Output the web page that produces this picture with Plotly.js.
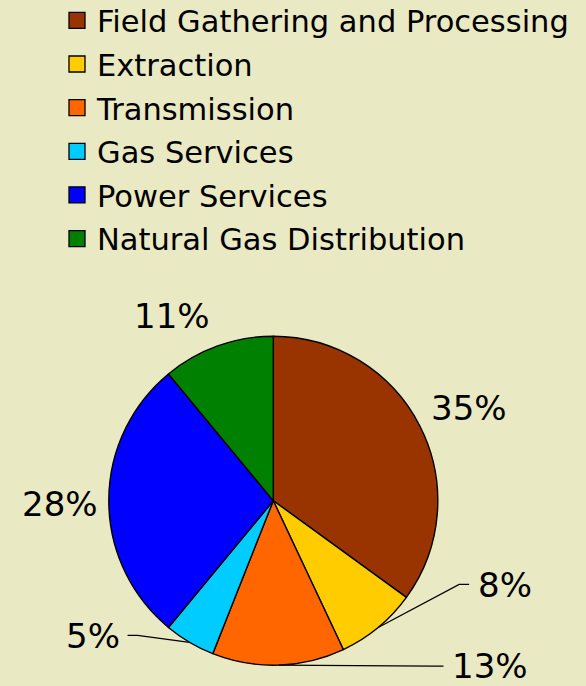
<!DOCTYPE html>
<html><head><meta charset="utf-8">
<script src="https://cdn.plot.ly/plotly-3.0.1.min.js"></script>
<style>html,body{margin:0;padding:0;background:#E9E9C3;} #chart{width:586px;height:686px;}</style>
</head><body><div id="chart"></div>
<script>
// ---- data ----
const categories = ['Field Gathering and Processing', 'Extraction', 'Transmission', 'Gas Services', 'Power Services', 'Natural Gas Distribution'];
const shares = [35, 8, 13, 5, 28, 11];
const percentLabels = ['35%', '8%', '13%', '5%', '28%', '11%'];

// ---- styles / layout ----
const sliceColors = ['#993300', '#FFCC00', '#FF6600', '#00CCFF', '#0000FF', '#008000'];
const W = 586, H = 686;
const BG = '#E9E9C3';
const FONT = 'DejaVu Sans, Verdana, sans-serif';
const pieBox = {x0: 108.8, x1: 437.8, y0: 336.2, y1: 665.2}; // pixel box of the pie
const cx = (pieBox.x0 + pieBox.x1) / 2, cy = (pieBox.y0 + pieBox.y1) / 2, R = (pieBox.x1 - pieBox.x0) / 2;
// label offsets (px) from each slice's outer mid-point
const labelPlacement = [
  {dx: 49, dy: -18, anchor: 'center'},
  {dx: 98, dy: -42, anchor: 'left', leader: true},
  {dx: 172, dy: 1, anchor: 'left', leader: true, lineShift: 1},
  {dx: -68, dy: -6, anchor: 'right', leader: true},
  {dx: -49, dy: 3, anchor: 'center'},
  {dx: -46, dy: -30, anchor: 'center'}
];

const total = shares.reduce((a, b) => a + b, 0);
const annotations = [], shapes = [];
let cum = 0;
const px = x => x / W, py = y => 1 - y / H;
shares.forEach((v, i) => {
  const theta = 2 * Math.PI * (cum + v / 2) / total;
  cum += v;
  const ex = cx + R * Math.sin(theta), ey = cy - R * Math.cos(theta);
  const p = labelPlacement[i];
  const tx = ex + p.dx, ty = ey + p.dy;
  annotations.push({
    x: px(tx), y: py(ty), xref: 'paper', yref: 'paper',
    xanchor: p.anchor, yanchor: 'middle', showarrow: false,
    text: percentLabels[i], font: {family: FONT, size: 34, color: '#000'}
  });
  if (p.leader) {
    let endX, elbowX;
    if (p.anchor === 'left') { endX = tx - 7; elbowX = tx - 17; }
    else { endX = tx + 6; elbowX = tx + 16; }
    const ly = ty - 1 + (p.lineShift || 0);
    shapes.push({
      type: 'path', xref: 'paper', yref: 'paper',
      path: `M${px(ex)},${py(ey)} L${px(elbowX)},${py(ly)} L${px(endX)},${py(ly)}`,
      line: {color: '#000', width: 1.3}
    });
  }
});

const pieTrace = {
  type: 'pie', labels: categories, values: shares, sort: false, direction: 'clockwise', rotation: 0,
  marker: {colors: sliceColors, line: {color: '#000', width: 1.4}},
  textinfo: 'none', hoverinfo: 'label+percent', showlegend: false,
  domain: {x: [pieBox.x0 / W, pieBox.x1 / W], y: [1 - pieBox.y1 / H, 1 - pieBox.y0 / H]}
};
// legend entries (one per category)
const legendTraces = categories.map((c, i) => ({
  type: 'scatter', mode: 'markers', x: [null], y: [null], name: c,
  legendgroup: 'g' + i, showlegend: true, hoverinfo: 'skip',
  marker: {symbol: 'square', size: 18, color: sliceColors[i], line: {color: '#000', width: 1.3}}
}));

const layout = {
  width: W, height: H,
  margin: {l: 0, r: 0, t: 0, b: 0, autoexpand: false},
  paper_bgcolor: BG, plot_bgcolor: BG,
  xaxis: {visible: false}, yaxis: {visible: false},
  showlegend: true,
  legend: {x: 57 / W, xanchor: 'left', y: 1 + 6 / H, yanchor: 'top', tracegroupgap: 1,
    bgcolor: 'rgba(0,0,0,0)', font: {family: FONT, size: 30.5, color: '#000'}},
  annotations: annotations, shapes: shapes
};
Plotly.newPlot('chart', [pieTrace].concat(legendTraces), layout, {displayModeBar: false, staticPlot: true});
</script></body></html>
